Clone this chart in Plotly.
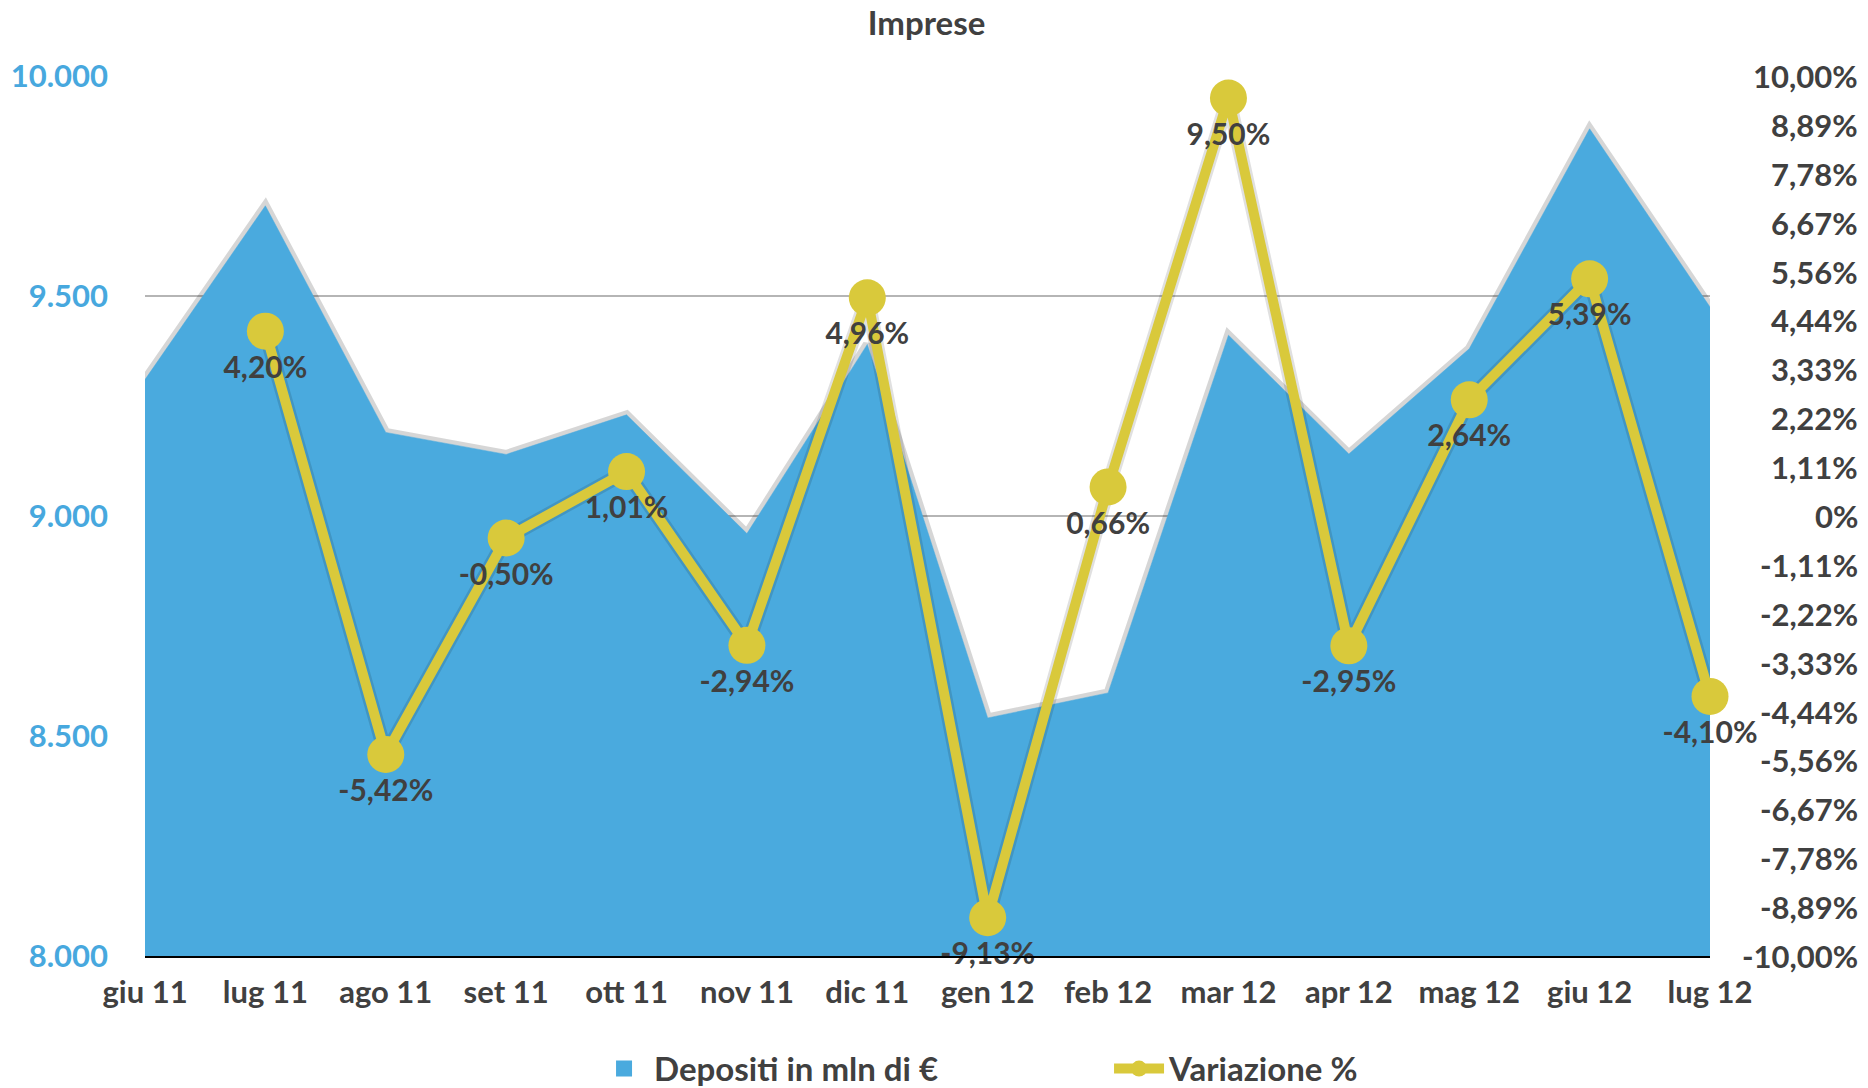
import plotly.graph_objects as go

# Monthly deposits of firms (millions of euro) and month-on-month change (%)
mesi = ["giu 11", "lug 11", "ago 11", "set 11", "ott 11", "nov 11", "dic 11",
        "gen 12", "feb 12", "mar 12", "apr 12", "mag 12", "giu 12", "lug 12"]
depositi = [9310, 9705, 9190, 9140, 9230, 8960, 9390,
            8541, 8598, 9411, 9141, 9380, 9880, 9475]
variazione = [None, 4.20, -5.42, -0.50, 1.01, -2.94, 4.96,
              -9.13, 0.66, 9.50, -2.95, 2.64, 5.39, -4.10]

left_ticks = [8000, 8500, 9000, 9500, 10000]
left_labels = ["8.000", "8.500", "9.000", "9.500", "10.000"]
right_ticks = [-10 + i * 10 / 9 for i in range(19)]
right_labels = ["-10,00%", "-8,89%", "-7,78%", "-6,67%", "-5,56%", "-4,44%",
                "-3,33%", "-2,22%", "-1,11%", "0%", "1,11%", "2,22%", "3,33%",
                "4,44%", "5,56%", "6,67%", "7,78%", "8,89%", "10,00%"]

BLUE = "#4AAADE"
YELLOW = "#D9C93B"
GREY_TXT = "#404040"
FONT = "Lato"


def fmt_pct(v):
    return f"{v:.2f}".replace(".", ",") + "%"


fig = go.Figure()

# soft shadow under the area edge
fig.add_trace(go.Scatter(
    x=mesi, y=depositi, mode="lines",
    line=dict(color="rgba(0,0,0,0.16)", width=9),
    hoverinfo="skip", showlegend=False))

fig.add_trace(go.Scatter(
    x=mesi, y=depositi, name="Depositi in mln di €",
    mode="lines", fill="tozeroy", fillcolor=BLUE,
    line=dict(color=BLUE, width=0.5), showlegend=False))

# legend entry for the deposits: a plain square swatch
fig.add_trace(go.Scatter(
    x=[None], y=[None], name="Depositi in mln di €", mode="markers",
    marker=dict(symbol="square", color=BLUE, size=27)))

# shadow of the percentage line
fig.add_trace(go.Scatter(
    x=mesi, y=variazione, yaxis="y2", mode="lines",
    line=dict(color="rgba(0,0,0,0.12)", width=15),
    hoverinfo="skip", showlegend=False))

fig.add_trace(go.Scatter(
    x=mesi, y=variazione, yaxis="y2", name="Variazione %",
    mode="lines+markers+text", cliponaxis=False,
    line=dict(color=YELLOW, width=10),
    marker=dict(color=YELLOW, size=37),
    text=[fmt_pct(v) if v is not None else "" for v in variazione],
    textposition="bottom center",
    textfont=dict(family=FONT, size=30, color=GREY_TXT, weight="bold")))

# right-aligned labels for the percentage axis
for tv, tl in zip(right_ticks, right_labels):
    fig.add_annotation(
        x=1.0958, xref="paper", y=tv, yref="y2",
        text=tl, showarrow=False, xanchor="right", yanchor="middle",
        font=dict(family=FONT, size=31, color=GREY_TXT, weight="bold"))

fig.update_layout(
    width=1868, height=1088,
    margin=dict(l=145, r=158, t=76, b=132, autoexpand=False),
    paper_bgcolor="white", plot_bgcolor="white",
    title=dict(text="Imprese", x=0.496, xanchor="center", y=0.978, yanchor="middle",
               font=dict(family=FONT, size=33, color=GREY_TXT, weight="bold")),
    xaxis=dict(
        type="category", range=[0, 13], showgrid=False,
        showline=True, linecolor="black", linewidth=2,
        ticks="", ticklabelstandoff=8,
        tickfont=dict(family=FONT, size=31, color=GREY_TXT, weight="bold")),
    yaxis=dict(
        range=[8000, 10000], tickvals=left_ticks, ticktext=left_labels,
        showgrid=True, gridcolor="#B5B5B5", gridwidth=2, zeroline=False,
        ticks="", ticklabelstandoff=36,
        tickfont=dict(family=FONT, size=31, color="#47A8DE", weight="bold")),
    yaxis2=dict(
        range=[-10, 10], overlaying="y", side="right",
        showgrid=False, zeroline=False, showticklabels=False),
    legend=dict(
        orientation="h", x=0.616, xanchor="center", y=-0.128, yanchor="middle",
        font=dict(family=FONT, size=33, color=GREY_TXT, weight="bold"),
        entrywidth=450, itemsizing="trace", itemwidth=50, traceorder="normal"),
    showlegend=True,
)

fig.write_html("out.html")
